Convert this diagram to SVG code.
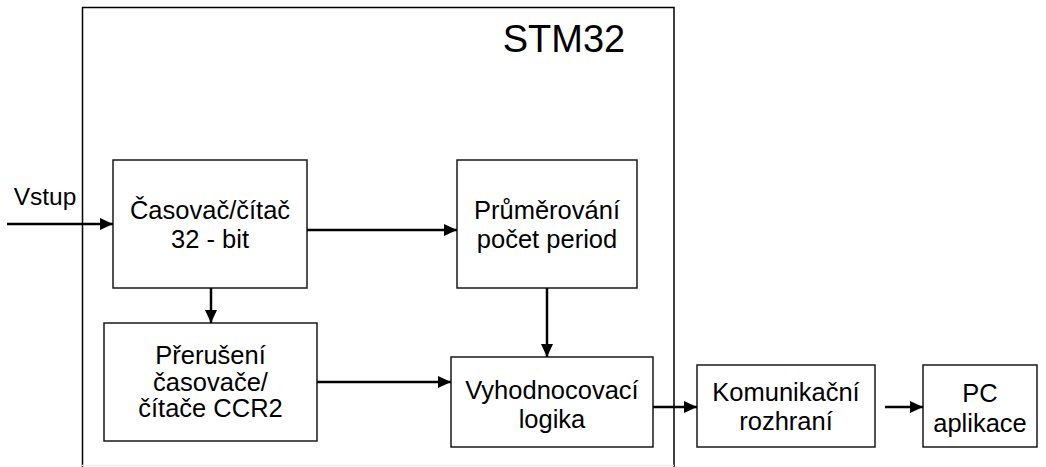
<svg xmlns="http://www.w3.org/2000/svg" width="1046" height="467" viewBox="0 0 1046 467">
<defs>
<style>
.box{fill:#fff;stroke:#1a1a1a;stroke-width:1.5}
.t{font-family:"Liberation Sans",Arial,sans-serif;font-size:25.5px;fill:#000;text-anchor:middle}
.c{stroke:#000;stroke-width:2.5;fill:none;marker-end:url(#ah)}
</style>
<marker id="ah" markerUnits="userSpaceOnUse" markerWidth="14" markerHeight="12" viewBox="0 0 14 12" refX="13" refY="6" orient="auto">
<path d="M0,0 L13,6 L0,12 Z" fill="#000"/>
</marker>
</defs>
<rect width="1046" height="467" fill="#fff"/>
<g id="stm32">
<path d="M82.5,467 V7.5 H674 V467" fill="none" stroke="#000" stroke-width="1.5"/>
<line x1="82" y1="465.5" x2="674" y2="465.5" stroke="#eee" stroke-width="1.5"/>
<text class="t" x="564" y="52" style="font-size:38px">STM32</text>
</g>
<g id="vstup-label"><text class="t" x="45" y="205" style="font-size:24.5px">Vstup</text></g>
<g id="casovac">
<rect class="box" x="113" y="160" width="194" height="128"/>
<text class="t" x="210" y="219">Časovač/čítač</text>
<text class="t" x="210" y="248">32 - bit</text>
</g>
<g id="prumerovani">
<rect class="box" x="457" y="160" width="180" height="128"/>
<text class="t" x="547" y="219">Průměrování</text>
<text class="t" x="547" y="248">počet period</text>
</g>
<g id="preruseni">
<rect class="box" x="104" y="323" width="213" height="118"/>
<text class="t" x="210.5" y="364">Přerušení</text>
<text class="t" x="210.5" y="391">časovače/</text>
<text class="t" x="210.5" y="417">čítače CCR2</text>
</g>
<g id="vyhodnocovaci">
<rect class="box" x="451" y="357" width="202" height="90"/>
<text class="t" x="552" y="399">Vyhodnocovací</text>
<text class="t" x="552" y="428">logika</text>
</g>
<g id="komunikacni">
<rect class="box" x="697" y="365" width="178" height="82"/>
<text class="t" x="786" y="401">Komunikační</text>
<text class="t" x="786" y="430">rozhraní</text>
</g>
<g id="pc">
<rect class="box" x="923" y="365" width="114" height="82"/>
<text class="t" x="980" y="402">PC</text>
<text class="t" x="980" y="432">aplikace</text>
</g>
<g id="connectors">
<line class="c" x1="7" y1="224" x2="113" y2="224"/>
<line class="c" x1="307" y1="230" x2="457" y2="230"/>
<line class="c" x1="211" y1="288" x2="211" y2="323"/>
<line class="c" x1="547" y1="288" x2="547" y2="357"/>
<line class="c" x1="317" y1="382" x2="451" y2="382"/>
<line class="c" x1="653" y1="407" x2="697" y2="407"/>
<line class="c" x1="885" y1="407" x2="923" y2="407"/>
</g>
</svg>
